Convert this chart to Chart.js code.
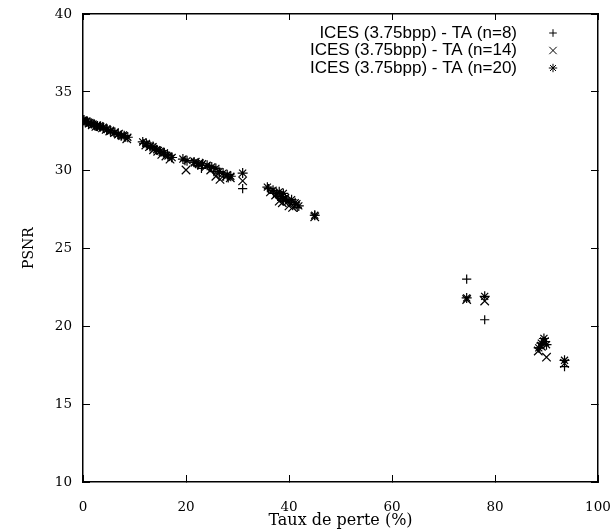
<!DOCTYPE html>
<html>
<head>
<meta charset="utf-8">
<script src="https://cdn.jsdelivr.net/npm/chart.js@4.4.1/dist/chart.umd.min.js"></script>
<style>
  html, body { margin: 0; padding: 0; background: #fff; }
  #wrap { width: 615px; height: 530px; position: relative; }
</style>
</head>
<body>
<div id="wrap"><canvas id="psnrChart"></canvas></div>
<script>
// taux de perte (%) / PSNR, n=8
const loss8 = [0, 0.4, 0.9, 1.4, 2, 2.6, 3.2, 3.9, 4.6, 5.3, 6, 6.8, 7.5, 8.3, 11.8, 12.5, 13.2, 14, 14.8, 15.6, 16.4, 17.2, 19.8, 21.5, 22.3, 23, 24.6, 25.4, 26.5, 27.3, 28.2, 31, 36, 37, 37.8, 38.3, 38.9, 39.5, 40.2, 41, 41.6, 45, 74.5, 78, 88.7, 89.3, 89.8, 93.5];
const psnr8 = [33.2, 33.1, 33.1, 33.0, 32.9, 32.8, 32.8, 32.7, 32.6, 32.5, 32.4, 32.3, 32.2, 32.1, 31.7, 31.6, 31.5, 31.4, 31.2, 31.1, 31.0, 30.8, 30.6, 30.5, 30.3, 30.1, 30.2, 29.9, 29.8, 29.6, 29.5, 28.8, 28.8, 28.5, 28.3, 28.2, 28.0, 28.1, 27.9, 27.8, 27.6, 27.1, 23.0, 20.4, 18.6, 18.8, 19.0, 17.4];

// n=14
const loss14 = [0, 0.6, 1.2, 1.8, 2.5, 3.1, 3.8, 4.5, 5.2, 6.1, 6.9, 7.7, 8.5, 12.2, 12.9, 13.7, 14.5, 15.3, 16.1, 16.9, 20, 21.8, 22.6, 23.8, 24.8, 25.8, 26.6, 27.8, 28.6, 31, 36.4, 37.4, 38.1, 38.7, 39.2, 40, 40.7, 41.4, 45, 74.5, 78, 88.4, 89, 89.6, 90, 93.5];
const psnr14 = [33.1, 33.1, 33.0, 32.9, 32.8, 32.8, 32.7, 32.6, 32.5, 32.4, 32.3, 32.2, 32.0, 31.6, 31.5, 31.3, 31.2, 31.0, 30.9, 30.7, 30.0, 30.5, 30.4, 30.2, 30.0, 29.6, 29.4, 29.6, 29.5, 29.3, 28.6, 28.4, 28.0, 27.9, 28.2, 27.7, 27.6, 27.8, 27.0, 21.7, 21.6, 18.4, 18.7, 19.0, 18.0, 17.6];

// n=20
const loss20 = [0, 0.2, 0.7, 1.1, 1.6, 2.2, 2.8, 3.4, 4.0, 4.7, 5.4, 6.2, 6.8, 7.4, 8.0, 8.7, 11.6, 12.3, 13, 13.6, 14.3, 15, 15.8, 16.5, 17.3, 19.4, 20.2, 21.6, 22.4, 23.2, 24.1, 25, 25.8, 26.4, 27.2, 28, 28.7, 31, 35.8, 36.9, 37.6, 38.1, 38.5, 38.9, 39.3, 39.8, 40.5, 41.2, 41.9, 45, 74.5, 78, 88.5, 89, 89.5, 90, 93.5];
const psnr20 = [33.2, 33.2, 33.1, 33.0, 33.0, 32.9, 32.8, 32.8, 32.7, 32.6, 32.5, 32.4, 32.3, 32.2, 32.2, 32.1, 31.8, 31.7, 31.5, 31.5, 31.3, 31.2, 31.1, 30.9, 30.8, 30.7, 30.6, 30.5, 30.4, 30.4, 30.3, 30.2, 30.1, 29.9, 29.8, 29.7, 29.6, 29.8, 28.9, 28.7, 28.5, 28.6, 28.3, 28.5, 28.2, 28.0, 28.1, 27.9, 27.7, 27.1, 21.8, 21.9, 18.6, 18.9, 19.2, 18.8, 17.8];

const seriesLabels = ['ICES (3.75bpp) - TA (n=8)', 'ICES (3.75bpp) - TA (n=14)', 'ICES (3.75bpp) - TA (n=20)'];
const seriesStyles = ['cross', 'crossRot', 'star'];
const seriesRadius = [4.6, 6, 5];

const xTitle = 'Taux de perte (%)';
const yTitle = 'PSNR';

function toPoints(xs, ys) {
  return xs.map((x, i) => ({ x: x, y: ys[i] }));
}

const serif = "'DejaVu Serif', 'Liberation Serif', serif";
const sans = "'Liberation Sans', Arial, sans-serif";

// fixed box size, no extra room for overflowing tick labels
function fixBox(size) {
  return s => {
    if (s.isHorizontal()) s.height = size; else s.width = size;
    s.paddingLeft = 0; s.paddingRight = 0; s.paddingTop = 0; s.paddingBottom = 0;
  };
}

// gnuplot-like key: text right aligned, symbol on the right
const keyPlugin = {
  id: 'gnuKey',
  afterDraw(chart) {
    const ctx = chart.ctx;
    const area = chart.chartArea;
    ctx.save();
    ctx.font = '17px ' + sans;
    ctx.fillStyle = '#000';
    ctx.textAlign = 'right';
    ctx.textBaseline = 'middle';
    chart.data.datasets.forEach((ds, i) => {
      const y = area.top + 19 + i * 17.5;
      ctx.fillText(ds.label, area.right - 81, y);
      ctx.strokeStyle = '#000';
      ctx.lineWidth = 1;
      Chart.helpers.drawPoint(ctx, { pointStyle: ds.pointStyle, radius: ds.pointRadius - 0.8, rotation: 0, borderWidth: 1 }, area.right - 45, y);
    });
    ctx.restore();
  }
};

const ctx = document.getElementById('psnrChart');
new Chart(ctx, {
  type: 'scatter',
  data: {
    datasets: [
      { label: seriesLabels[0], data: toPoints(loss8, psnr8), pointStyle: seriesStyles[0], pointRadius: seriesRadius[0] },
      { label: seriesLabels[1], data: toPoints(loss14, psnr14), pointStyle: seriesStyles[1], pointRadius: seriesRadius[1] },
      { label: seriesLabels[2], data: toPoints(loss20, psnr20), pointStyle: seriesStyles[2], pointRadius: seriesRadius[2] }
    ].map(ds => Object.assign(ds, {
      pointBorderWidth: 1.2,
      borderColor: '#000',
      backgroundColor: '#000'
    }))
  },
  options: {
    responsive: true,
    maintainAspectRatio: false,
    animation: false,
    layout: { padding: 0, autoPadding: false },
    plugins: {
      legend: { display: false },
      tooltip: { enabled: false }
    },
    scales: {
      x: {
        type: 'linear',
        position: 'bottom',
        min: 0, max: 100,
        afterFit: fixBox(48),
        ticks: { stepSize: 20, color: '#000', font: { family: serif, size: 13.5 }, padding: 24 },
        grid: { drawOnChartArea: false, tickLength: -7, color: '#000', tickWidth: 1 },
        border: { color: '#000', width: 1.5 },
        title: { display: true, text: xTitle, color: '#000', font: { family: serif, size: 16 }, padding: { top: 0, bottom: 0 } }
      },
      x2: {
        type: 'linear',
        position: 'top',
        min: 0, max: 100,
        afterFit: fixBox(14),
        ticks: { stepSize: 20, display: false },
        grid: { drawOnChartArea: false, tickLength: -6, color: '#000', tickWidth: 1 },
        border: { color: '#000', width: 1.5 }
      },
      y: {
        type: 'linear',
        position: 'left',
        min: 10, max: 40,
        afterFit: fixBox(83),
        ticks: { stepSize: 5, color: '#000', font: { family: serif, size: 13.5 }, padding: 18 },
        grid: { drawOnChartArea: false, tickLength: -7, color: '#000', tickWidth: 1 },
        border: { color: '#000', width: 1.5 },
        title: { display: true, text: yTitle, color: '#000', font: { family: serif, size: 14 }, padding: { top: 21, bottom: 0 } }
      },
      y2: {
        type: 'linear',
        position: 'right',
        min: 10, max: 40,
        afterFit: fixBox(17),
        ticks: { stepSize: 5, display: false },
        grid: { drawOnChartArea: false, tickLength: -7, color: '#000', tickWidth: 1 },
        border: { color: '#000', width: 1.5 }
      }
    }
  },
  plugins: [keyPlugin]
});
</script>
</body>
</html>
